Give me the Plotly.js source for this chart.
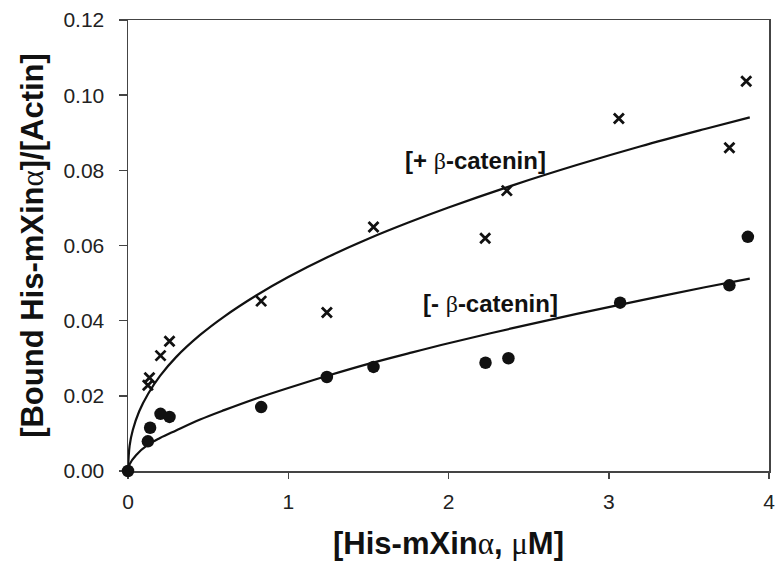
<!DOCTYPE html>
<html>
<head>
<meta charset="utf-8">
<script src="https://cdn.plot.ly/plotly-3.0.1.min.js"></script>
<style>html,body{margin:0;padding:0;background:#fff;}#chart{width:777px;height:574px;}</style>
</head>
<body>
<div id="chart"></div>
<script>
// Measured points: + beta-catenin (crosses); the origin point is hidden under the circle
const plusX = [0.124, 0.134, 0.203, 0.259, 0.831, 1.241, 1.532, 2.229, 2.364, 3.063, 3.753, 3.858];
const plusY = [0.0228, 0.0248, 0.0307, 0.0345, 0.0452, 0.0422, 0.0649, 0.0619, 0.0746, 0.0938, 0.0860, 0.1037];
// Measured points: - beta-catenin (filled circles)
const minusX = [0, 0.124, 0.138, 0.203, 0.259, 0.831, 1.241, 1.532, 2.231, 2.374, 3.071, 3.753, 3.868];
const minusY = [0, 0.0079, 0.0115, 0.0152, 0.0144, 0.0170, 0.0250, 0.0277, 0.0288, 0.0300, 0.0448, 0.0494, 0.0623];
// Fitted curves
const fitPlusX = [0, 0.01, 0.03, 0.07, 0.125, 0.2, 0.3, 0.45, 0.6, 0.8, 1.0, 1.25, 1.5, 1.75, 2.0, 2.4, 2.8, 3.2, 3.6, 3.88];
const fitPlusY = [0, 0.0067, 0.0109, 0.0159, 0.0205, 0.0253, 0.0303, 0.0362, 0.0411, 0.0467, 0.0516, 0.0570, 0.0618, 0.0661, 0.0701, 0.0760, 0.0814, 0.0864, 0.0910, 0.0941];
const fitMinusX = [0, 0.01, 0.05, 0.125, 0.2, 0.3, 0.45, 0.6, 0.8, 1.0, 1.25, 1.5, 1.75, 2.0, 2.4, 2.8, 3.2, 3.6, 3.88];
const fitMinusY = [0, 0.0018, 0.0042, 0.0070, 0.0088, 0.0108, 0.0137, 0.0162, 0.0193, 0.0221, 0.0254, 0.0285, 0.0313, 0.0340, 0.0380, 0.0418, 0.0454, 0.0489, 0.0512];
const xTicks = [0, 1, 2, 3, 4];
const yTicks = [0, 0.02, 0.04, 0.06, 0.08, 0.10, 0.12];
const yTickText = ['0.00', '0.02', '0.04', '0.06', '0.08', '0.10', '0.12'];
const greek = (c) => '<span style="font-family:\'Liberation Serif\';font-weight:normal">' + c + '</span>';
const labelPlus = '[+ ' + greek('β') + '-catenin]';
const labelMinus = '[- ' + greek('β') + '-catenin]';

const traces = [
  {x: fitPlusX, y: fitPlusY, mode: 'lines', line: {color: '#111', width: 2.2, shape: 'spline'}, hoverinfo: 'skip'},
  {x: fitMinusX, y: fitMinusY, mode: 'lines', line: {color: '#111', width: 2.2, shape: 'spline'}, hoverinfo: 'skip'},
  {x: plusX, y: plusY, mode: 'markers', cliponaxis: false, marker: {symbol: 'x-thin-open', size: 10, color: '#111', line: {color: '#111', width: 2.8}}},
  {x: minusX, y: minusY, mode: 'markers', cliponaxis: false, marker: {symbol: 'circle', size: 12.5, color: '#111'}}
];

const layout = {
  width: 777, height: 574,
  margin: {l: 128, r: 8, t: 20, b: 103},
  paper_bgcolor: '#fff', plot_bgcolor: '#fff',
  showlegend: false,
  font: {family: 'Liberation Sans, Arial, sans-serif', color: '#222'},
  xaxis: {
    range: [0, 4], tickvals: xTicks, ticktext: xTicks.map(String), layer: 'below traces',
    showgrid: false, zeroline: false, showline: true, mirror: true,
    linecolor: '#444', linewidth: 1.5, ticks: 'outside', ticklen: 6, tickwidth: 1.5, tickcolor: '#444',
    tickfont: {size: 21, color: '#222'}, ticklabelstandoff: 5,
    title: {text: '[His-mXin' + greek('α') + ', ' + greek('μ') + 'M]',
            font: {size: 31, color: '#111', weight: 'bold'}, standoff: 20}
  },
  yaxis: {
    range: [0, 0.12], tickvals: yTicks, ticktext: yTickText, layer: 'below traces',
    showgrid: false, zeroline: false, showline: true, mirror: true,
    linecolor: '#444', linewidth: 1.5, ticks: 'outside', ticklen: 8, tickwidth: 1.5, tickcolor: '#444',
    tickfont: {size: 21, color: '#222'}, ticklabelstandoff: 10,
    title: {text: '[Bound His-mXin' + greek('α') + ']/[Actin]',
            font: {size: 31, color: '#111', weight: 'bold'}, standoff: 10}
  },
  annotations: [
    {x: 2.17, y: 0.0825, xref: 'x', yref: 'y', text: labelPlus, showarrow: false,
     font: {size: 24, color: '#111', weight: 'bold'}},
    {x: 2.26, y: 0.0447, xref: 'x', yref: 'y', text: labelMinus, showarrow: false,
     font: {size: 24, color: '#111', weight: 'bold'}}
  ]
};

Plotly.newPlot('chart', traces, layout, {displayModeBar: false, staticPlot: true});
</script>
</body>
</html>
